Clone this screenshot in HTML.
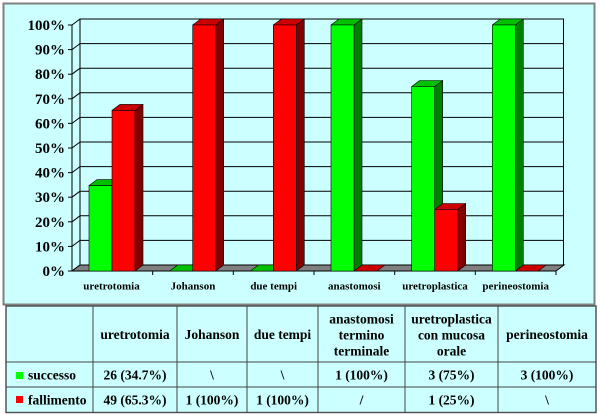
<!DOCTYPE html>
<html><head><meta charset="utf-8"><style>
html,body{margin:0;padding:0;background:#fff;}
svg{display:block;}
text{font-family:"Liberation Serif","Times New Roman",serif;font-weight:bold;fill:#000;}
</style></head><body>
<svg width="600" height="414" viewBox="0 0 600 414" xmlns="http://www.w3.org/2000/svg">
<rect x="0" y="0" width="600" height="414" fill="#fff"/>
<rect x="3.5" y="3.5" width="591" height="301" fill="#ccffff" stroke="#808080" stroke-width="2"/>
<!-- back wall -->
<rect x="80" y="19" width="483.5" height="246" fill="#ccffff" stroke="#000" stroke-width="1"/>
<g stroke="#000" stroke-width="1" fill="none">
<line x1="80" y1="240.4" x2="563.5" y2="240.4"/>
<line x1="80" y1="215.8" x2="563.5" y2="215.8"/>
<line x1="80" y1="191.2" x2="563.5" y2="191.2"/>
<line x1="80" y1="166.6" x2="563.5" y2="166.6"/>
<line x1="80" y1="142" x2="563.5" y2="142"/>
<line x1="80" y1="117.4" x2="563.5" y2="117.4"/>
<line x1="80" y1="92.8" x2="563.5" y2="92.8"/>
<line x1="80" y1="68.2" x2="563.5" y2="68.2"/>
<line x1="80" y1="43.6" x2="563.5" y2="43.6"/>
<line x1="72" y1="271" x2="80" y2="265"/>
<line x1="72" y1="246.4" x2="80" y2="240.4"/>
<line x1="72" y1="221.8" x2="80" y2="215.8"/>
<line x1="72" y1="197.2" x2="80" y2="191.2"/>
<line x1="72" y1="172.6" x2="80" y2="166.6"/>
<line x1="72" y1="148" x2="80" y2="142"/>
<line x1="72" y1="123.4" x2="80" y2="117.4"/>
<line x1="72" y1="98.8" x2="80" y2="92.8"/>
<line x1="72" y1="74.2" x2="80" y2="68.2"/>
<line x1="72" y1="49.6" x2="80" y2="43.6"/>
<line x1="72" y1="25" x2="80" y2="19"/>
<line x1="72" y1="25" x2="72" y2="271"/>
<line x1="68" y1="271" x2="72" y2="271"/>
<line x1="68" y1="246.4" x2="72" y2="246.4"/>
<line x1="68" y1="221.8" x2="72" y2="221.8"/>
<line x1="68" y1="197.2" x2="72" y2="197.2"/>
<line x1="68" y1="172.6" x2="72" y2="172.6"/>
<line x1="68" y1="148" x2="72" y2="148"/>
<line x1="68" y1="123.4" x2="72" y2="123.4"/>
<line x1="68" y1="98.8" x2="72" y2="98.8"/>
<line x1="68" y1="74.2" x2="72" y2="74.2"/>
<line x1="68" y1="49.6" x2="72" y2="49.6"/>
<line x1="68" y1="25" x2="72" y2="25"/>
</g>
<!-- floor -->
<polygon points="72,271 556,271 564,265 80,265" fill="#808080" stroke="#000" stroke-width="1"/>
<g stroke="#000" stroke-width="1">
<line x1="152.7" y1="271" x2="152.7" y2="275"/>
<line x1="233.3" y1="271" x2="233.3" y2="275"/>
<line x1="314" y1="271" x2="314" y2="275"/>
<line x1="394.7" y1="271" x2="394.7" y2="275"/>
<line x1="475.3" y1="271" x2="475.3" y2="275"/>
<line x1="556" y1="271" x2="556" y2="275"/>
</g>
<!-- bars -->
<g stroke="#000" stroke-width="0.6" stroke-linejoin="round">
<polygon points="112,185.6 120,179.6 120,265 112,271" fill="#008000"/>
<polygon points="89,185.6 97,179.6 120,179.6 112,185.6" fill="#00c000"/>
<rect x="89" y="185.6" width="23" height="85.4" fill="#00ff00"/>
<polygon points="135,110.4 143,104.4 143,265 135,271" fill="#800000"/>
<polygon points="112,110.4 120,104.4 143,104.4 135,110.4" fill="#cc0000"/>
<rect x="112" y="110.4" width="23" height="160.6" fill="#ff0000"/>
<polygon points="169.7,271 177.7,265 200.7,265 192.7,271" fill="#00c000"/>
<polygon points="215.7,25 223.7,19 223.7,265 215.7,271" fill="#800000"/>
<polygon points="192.7,25 200.7,19 223.7,19 215.7,25" fill="#cc0000"/>
<rect x="192.7" y="25" width="23" height="246" fill="#ff0000"/>
<polygon points="250.3,271 258.3,265 281.3,265 273.3,271" fill="#00c000"/>
<polygon points="296.3,25 304.3,19 304.3,265 296.3,271" fill="#800000"/>
<polygon points="273.3,25 281.3,19 304.3,19 296.3,25" fill="#cc0000"/>
<rect x="273.3" y="25" width="23" height="246" fill="#ff0000"/>
<polygon points="354,25 362,19 362,265 354,271" fill="#008000"/>
<polygon points="331,25 339,19 362,19 354,25" fill="#00c000"/>
<rect x="331" y="25" width="23" height="246" fill="#00ff00"/>
<polygon points="354,271 362,265 385,265 377,271" fill="#cc0000"/>
<polygon points="434.7,86.5 442.7,80.5 442.7,265 434.7,271" fill="#008000"/>
<polygon points="411.7,86.5 419.7,80.5 442.7,80.5 434.7,86.5" fill="#00c000"/>
<rect x="411.7" y="86.5" width="23" height="184.5" fill="#00ff00"/>
<polygon points="457.7,209.5 465.7,203.5 465.7,265 457.7,271" fill="#800000"/>
<polygon points="434.7,209.5 442.7,203.5 465.7,203.5 457.7,209.5" fill="#cc0000"/>
<rect x="434.7" y="209.5" width="23" height="61.5" fill="#ff0000"/>
<polygon points="515.3,25 523.3,19 523.3,265 515.3,271" fill="#008000"/>
<polygon points="492.3,25 500.3,19 523.3,19 515.3,25" fill="#00c000"/>
<rect x="492.3" y="25" width="23" height="246" fill="#00ff00"/>
<polygon points="515.3,271 523.3,265 546.3,265 538.3,271" fill="#cc0000"/>
</g>
<!-- y labels -->
<g font-size="15" text-anchor="end">
<text x="65" y="276">0%</text>
<text x="65" y="251.4">10%</text>
<text x="65" y="226.8">20%</text>
<text x="65" y="202.2">30%</text>
<text x="65" y="177.6">40%</text>
<text x="65" y="153">50%</text>
<text x="65" y="128.4">60%</text>
<text x="65" y="103.8">70%</text>
<text x="65" y="79.2">80%</text>
<text x="65" y="54.6">90%</text>
<text x="65" y="30">100%</text>
</g>
<!-- category labels -->
<g font-size="11" text-anchor="middle">
<text x="111.5" y="289.5">uretrotomia</text>
<text x="193" y="289.5">Johanson</text>
<text x="273.7" y="289.5">due tempi</text>
<text x="354.3" y="289.5">anastomosi</text>
<text x="435" y="289.5">uretroplastica</text>
<text x="515.7" y="289.5">perineostomia</text>
</g>
<!-- table -->
<rect x="6" y="306" width="590" height="106.5" fill="#ccffff" stroke="#555" stroke-width="1.5"/>
<g stroke="#444" stroke-width="1">
<line x1="6" y1="362" x2="596" y2="362"/>
<line x1="6" y1="387" x2="596" y2="387"/>
<line x1="93" y1="306" x2="93" y2="412.5"/>
<line x1="177" y1="306" x2="177" y2="412.5"/>
<line x1="247" y1="306" x2="247" y2="412.5"/>
<line x1="318" y1="306" x2="318" y2="412.5"/>
<line x1="405" y1="306" x2="405" y2="412.5"/>
<line x1="498" y1="306" x2="498" y2="412.5"/>
</g>
<g font-size="13.5" text-anchor="middle">
<text x="135" y="339">uretrotomia</text>
<text x="212" y="339">Johanson</text>
<text x="282.5" y="339">due tempi</text>
<text x="361.5" y="323.5">anastomosi</text>
<text x="361.5" y="339.5">termino</text>
<text x="361.5" y="355.5">terminale</text>
<text x="451.5" y="323.5">uretroplastica</text>
<text x="451.5" y="339.5">con mucosa</text>
<text x="451.5" y="355.5">orale</text>
<text x="547" y="339">perineostomia</text>
<text x="135" y="379.5">26 (34.7%)</text>
<text x="212" y="379.5" font-weight="normal">\</text>
<text x="282.5" y="379.5" font-weight="normal">\</text>
<text x="361.5" y="379.5">1 (100%)</text>
<text x="451.5" y="379.5">3 (75%)</text>
<text x="547" y="379.5">3 (100%)</text>
<text x="135" y="404.5">49 (65.3%)</text>
<text x="212" y="404.5">1 (100%)</text>
<text x="282.5" y="404.5">1 (100%)</text>
<text x="361.5" y="404.5" font-weight="normal">/</text>
<text x="451.5" y="404.5">1 (25%)</text>
<text x="547" y="404.5" font-weight="normal">\</text>
</g>
<rect x="16" y="372" width="7" height="7" fill="#00ff00"/>
<rect x="16" y="396" width="7" height="7" fill="#ff0000"/>
<g font-size="13.5">
<text x="28" y="379.5">successo</text>
<text x="28" y="404.5">fallimento</text>
</g>
</svg>
</body></html>
